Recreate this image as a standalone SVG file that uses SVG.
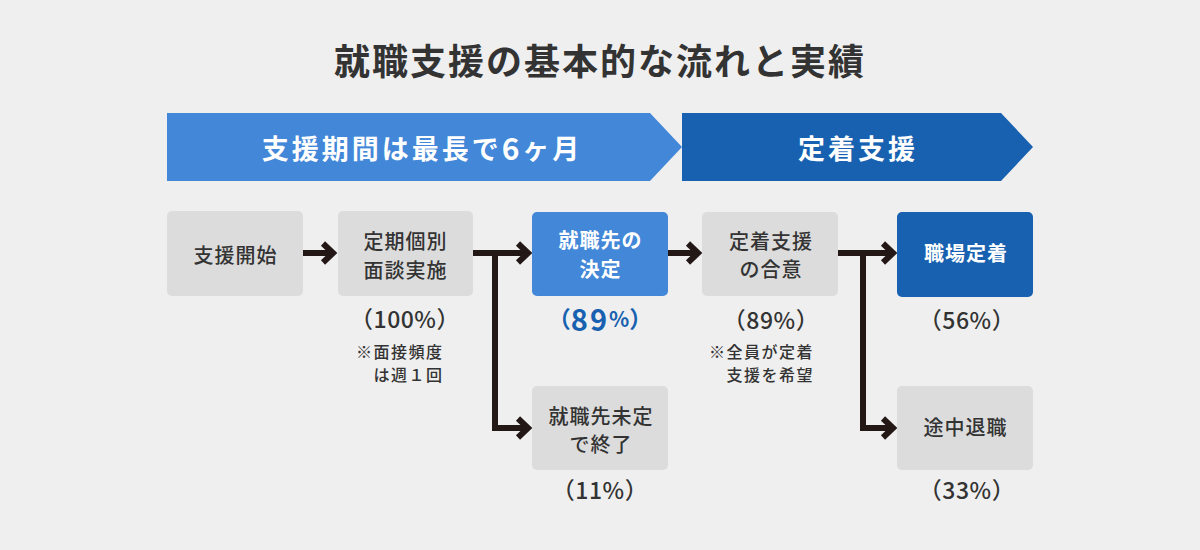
<svg xmlns="http://www.w3.org/2000/svg" width="1200" height="550" viewBox="0 0 1200 550">
<style>
text{font-family:"Noto Sans CJK JP","Noto Sans",sans-serif;dominant-baseline:central;text-anchor:middle}
.title{font-size:36px;font-weight:bold;fill:#333;letter-spacing:2px}
.ban{font-size:27px;font-weight:bold;fill:#fff;letter-spacing:3px}
.gbox{fill:#dcdcdc}
.lbox{fill:#4287d8}
.dbox{fill:#1761b0}
.gt{font-size:20px;font-weight:500;fill:#333;letter-spacing:1px}
.wt{font-size:20px;font-weight:bold;fill:#fff;letter-spacing:1px}
.pct{font-size:23px;font-weight:500;fill:#333;letter-spacing:0.5px}
.note{font-size:16px;font-weight:500;fill:#333;letter-spacing:1.5px;text-anchor:start}
.conn{fill:none;stroke:#231815;stroke-width:6;stroke-linejoin:miter;marker-end:url(#chev)}
</style>
<defs>
<marker id="chev" markerUnits="userSpaceOnUse" markerWidth="24" markerHeight="32" viewBox="-16 -16 24 32" refX="0" refY="0" orient="auto">
<path d="M-10,-9.5 L0,0 L-10,9.5" fill="none" stroke="#231815" stroke-width="6" stroke-linejoin="miter"/>
</marker>
</defs>
<rect width="1200" height="550" fill="#efefef"/>
<text class="title" x="600" y="59">就職支援の基本的な流れと実績</text>
<g id="banner-period">
<polygon points="167,113 650,113 682,147 650,181 167,181" fill="#4287d8"/>
<text class="ban" x="422" y="147">支援期間は最長で<tspan font-size="30">6</tspan>ヶ月</text>
</g>
<g id="banner-settle">
<polygon points="682,113 1001,113 1033,147 1001,181 682,181" fill="#1761b0"/>
<text class="ban" x="858" y="147">定着支援</text>
</g>
<g id="connectors">
<path class="conn" d="M303,253 H333"/>
<path class="conn" d="M473,253 H528"/>
<path class="conn" d="M495,253 V428 H528"/>
<path class="conn" d="M668,253 H698"/>
<path class="conn" d="M838,253 H893"/>
<path class="conn" d="M863,253 V428 H893"/>
</g>
<g id="n-start">
<rect class="gbox" x="167" y="211" width="136" height="85" rx="5"/>
<text class="gt" x="235.5" y="254">支援開始</text>
</g>
<g id="n-interview">
<rect class="gbox" x="338" y="211" width="135" height="85" rx="5"/>
<text class="gt" x="405.5" y="240">定期個別</text>
<text class="gt" x="405.5" y="269">面談実施</text>
<text class="pct" x="405" y="318">（100%）</text>
<text class="note" x="356" y="351">※面接頻度</text>
<text class="note" x="356" y="374">　は週１回</text>
</g>
<g id="n-decided">
<rect class="lbox" x="532" y="212" width="136" height="84" rx="5"/>
<text class="wt" x="600.5" y="239">就職先の</text>
<text class="wt" x="600.5" y="268">決定</text>
<text x="600" y="318" fill="#1761b0" font-weight="bold" font-size="23"><tspan>（</tspan><tspan font-size="29" letter-spacing="2">89</tspan><tspan font-size="21">%</tspan><tspan>）</tspan></text>
</g>
<g id="n-undecided">
<rect class="gbox" x="532" y="386" width="136" height="84" rx="5"/>
<text class="gt" x="601" y="415.5">就職先未定</text>
<text class="gt" x="601" y="443.5">で終了</text>
<text class="pct" x="600" y="489">（11%）</text>
</g>
<g id="n-agree">
<rect class="gbox" x="702" y="212" width="136" height="84" rx="5"/>
<text class="gt" x="771" y="240">定着支援</text>
<text class="gt" x="771" y="268.5">の合意</text>
<text class="pct" x="771" y="319">（89%）</text>
<text class="note" x="709" y="351">※全員が定着</text>
<text class="note" x="709" y="374">　支援を希望</text>
</g>
<g id="n-settle">
<rect class="dbox" x="897" y="212" width="136" height="85" rx="5"/>
<text class="wt" x="966" y="252" font-size="21" letter-spacing="1.5">職場定着</text>
<text class="pct" x="967" y="319">（56%）</text>
</g>
<g id="n-quit">
<rect class="gbox" x="897" y="386" width="136" height="84" rx="5"/>
<text class="gt" x="965.5" y="426" font-weight="bold" fill="#111">途中退職</text>
<text class="pct" x="967" y="489">（33%）</text>
</g>
</svg>
